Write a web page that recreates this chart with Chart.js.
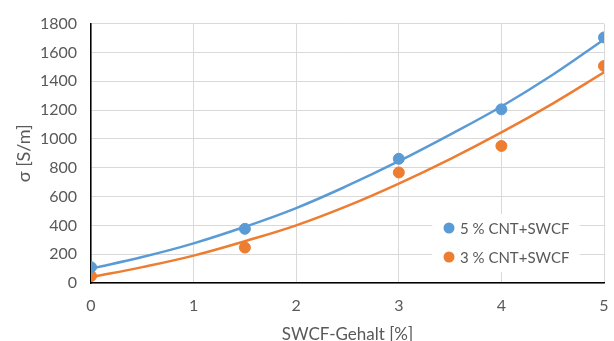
<!DOCTYPE html>
<html>
<head>
<meta charset="utf-8">
<script src="https://cdn.jsdelivr.net/npm/chart.js@4"></script>
<style>
  html, body { margin: 0; padding: 0; background: #fff; }
  #wrap { width: 614px; height: 341px; }
</style>
</head>
<body>
<div id="wrap"><canvas id="chart"></canvas></div>
<script>
// measured points
const xValues = [0, 1.5, 3, 4, 5];
const cnt5Values = [110, 376, 862, 1205, 1704];
const cnt3Values = [48, 246, 767, 951, 1506];

// trend lines
const trendX = [0, 0.5, 1, 1.5, 2, 2.5, 3, 3.5, 4, 4.5, 5];
const trend5 = [100, 180, 275, 390, 520, 675, 845, 1030, 1225, 1445, 1690];
const trend3 = [40, 110, 190, 290, 400, 535, 690, 860, 1045, 1245, 1462];

const seriesLabels = ['5 % CNT+SWCF', '3 % CNT+SWCF'];
const blue = '#5b9bd5';
const orange = '#ed7d31';
const font = 'Lato, "Open Sans", sans-serif';

const toPoints = (xs, ys) => xs.map((x, i) => ({ x: x, y: ys[i] }));

// legend box inside the plot, like Excel
const insideLegend = {
  id: 'insideLegend',
  afterDatasetsDraw(chart) {
    const ctx = chart.ctx;
    const x0 = 432, y0 = 214, w = 148, h = 58;
    ctx.save();
    ctx.fillStyle = '#fff';
    ctx.fillRect(x0, y0, w, h);
    const colors = [blue, orange];
    ctx.font = '15px ' + font;
    ctx.textBaseline = 'middle';
    seriesLabels.forEach((lab, i) => {
      const cy = 228 + i * 29;
      ctx.beginPath();
      ctx.fillStyle = colors[i];
      ctx.arc(449, cy, 5.5, 0, Math.PI * 2);
      ctx.fill();
      ctx.fillStyle = '#595959';
      ctx.fillText(lab, 460, cy + 1);
    });
    ctx.restore();
  }
};

new Chart(document.getElementById('chart'), {
  type: 'scatter',
  data: {
    datasets: [
      {
        label: seriesLabels[0],
        data: toPoints(xValues, cnt5Values),
        backgroundColor: blue,
        borderColor: blue,
        pointRadius: 5.5,
        order: 0
      },
      {
        label: seriesLabels[1],
        data: toPoints(xValues, cnt3Values),
        backgroundColor: orange,
        borderColor: orange,
        pointRadius: 5.5,
        order: 0
      },
      {
        type: 'line',
        data: toPoints(trendX, trend5),
        borderColor: blue,
        borderWidth: 2.5,
        pointRadius: 0,
        tension: 0.4,
        fill: false,
        order: 1
      },
      {
        type: 'line',
        data: toPoints(trendX, trend3),
        borderColor: orange,
        borderWidth: 2.5,
        pointRadius: 0,
        tension: 0.4,
        fill: false,
        order: 1
      }
    ]
  },
  options: {
    responsive: true,
    maintainAspectRatio: false,
    animation: false,
    layout: { padding: { left: 0, right: 10, top: 20, bottom: 0 } },
    plugins: {
      legend: { display: false },
      tooltip: { enabled: false }
    },
    scales: {
      x: {
        type: 'linear',
        min: 0,
        max: 5,
        ticks: { stepSize: 1, color: '#595959', font: { family: font, size: 16 }, padding: 13,
                 callback: v => String(v) },
        grid: { color: '#d9d9d9', lineWidth: 1, drawTicks: false },
        border: { color: '#000', width: 1.5 },
        title: {
          display: true,
          text: 'SWCF-Gehalt [%]',
          color: '#595959',
          font: { family: font, size: 17 },
          padding: { top: 8, bottom: -4 }
        },
        afterFit: s => { s.height = 58; s.paddingRight = 0; s.paddingLeft = 0; }
      },
      y: {
        min: 0,
        max: 1800,
        ticks: { stepSize: 200, color: '#595959', font: { family: font, size: 16 }, padding: 14,
                 callback: v => String(v) },
        grid: { color: '#d9d9d9', lineWidth: 1, drawTicks: false },
        border: { color: '#000', width: 1.5 },
        title: {
          display: true,
          text: 'σ [S/m]',
          color: '#595959',
          font: { family: font, size: 18, lineHeight: 2.2 },
          padding: { top: 4, bottom: 4 }
        },
        afterFit: s => { s.width = 91; }
      }
    }
  },
  plugins: [insideLegend]
});
</script>
</body>
</html>
